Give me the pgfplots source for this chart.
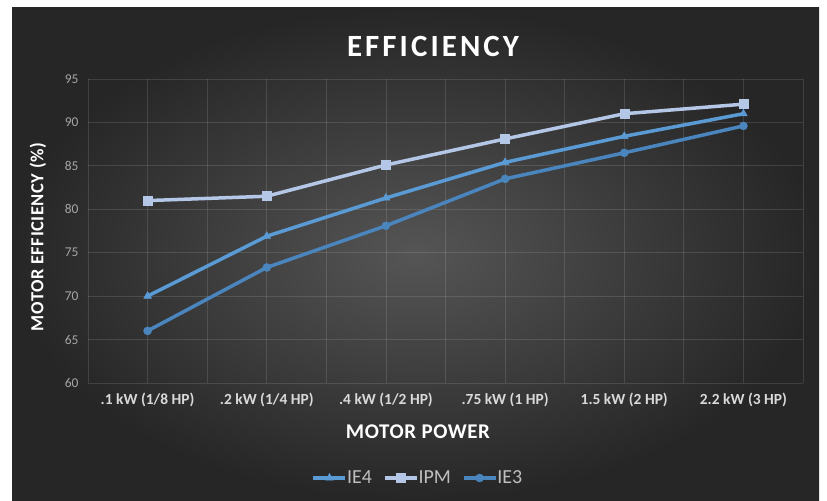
\documentclass[border=0pt]{standalone}
\usepackage{fontspec}
\setmainfont{Carlito}
\newfontfamily\titlefont[LetterSpace=10]{Carlito}
\newfontfamily\labfont[LetterSpace=3]{Carlito}
\usepackage{pgfplots}
\pgfplotsset{compat=1.18}
\definecolor{ipm}{HTML}{B4C7E7}
\definecolor{ie4}{HTML}{5B9BD5}
\definecolor{ie3}{HTML}{4A85BE}
\definecolor{bgin}{HTML}{555555}
\definecolor{bgout}{HTML}{262626}
\definecolor{ticky}{HTML}{A6A6A6}
\definecolor{tickx}{HTML}{D9D9D9}
\definecolor{legtxt}{HTML}{BFBFBF}
\begin{document}
\begin{tikzpicture}[x=1bp,y=1bp]
\fill[white] (0,0) rectangle (827,501);
\shade[inner color=bgin, outer color=bgout] (12,0) rectangle (819,493);
\begin{axis}[at={(88bp,118bp)}, anchor=south west, scale only axis,
  width=715bp, height=304bp,
  xmin=-0.5, xmax=5.5, ymin=60, ymax=95,
  xtick={0,...,5}, minor xtick={-0.5,0.5,...,5.5}, ytick={60,65,...,95},
  xticklabels={.1 kW (1/8 HP), .2 kW (1/4 HP), .4 kW (1/2 HP), .75 kW (1 HP), 1.5 kW (2 HP), 2.2 kW (3 HP)},
  grid=both,
  grid style={white, opacity=0.12, line width=0.8bp},
  minor grid style={white, opacity=0.12, line width=0.8bp},
  axis line style={draw=none},
  major tick style={draw=none}, minor tick style={draw=none},
  /pgf/number format/assume math mode=true,
  xticklabel style={font=\bfseries\fontsize{15.5}{17}\selectfont, text=tickx, yshift=-7bp},
  yticklabel style={font=\fontsize{13.5}{15}\selectfont, text=ticky, xshift=-6bp},
  legend style={at={(0.4615,-0.3125)}, anchor=center, draw=none, fill=none,
    text=legtxt, font=\fontsize{20}{22}\selectfont, legend columns=3,
    /tikz/every odd column/.append style={column sep=-2bp},
    /tikz/every even column/.append style={column sep=9bp}},
  legend cell align=left,
  legend image code/.code={\draw[mark repeat=2,mark phase=2,#1] plot coordinates {(0bp,0bp) (16bp,0bp) (32bp,0bp)};},
  every axis plot/.append style={line width=3.5bp},
]
\addplot[color=ie4, mark=triangle*, mark size=4.5bp, mark options={line width=0.5bp}] coordinates {(0,70) (1,76.9) (2,81.3) (3,85.4) (4,88.4) (5,91.0)};
\addlegendentry{IE4}
\addplot[color=ipm, mark=square*, mark size=4.5bp, mark options={line width=0.5bp}] coordinates {(0,81.0) (1,81.5) (2,85.1) (3,88.1) (4,91.0) (5,92.1)};
\addlegendentry{IPM}
\addplot[color=ie3, mark=*, mark size=4bp, mark options={line width=0.5bp}] coordinates {(0,66.0) (1,73.3) (2,78.1) (3,83.5) (4,86.5) (5,89.6)};
\addlegendentry{IE3}
\end{axis}
\node[text=white, font=\titlefont\bfseries\fontsize{31}{34}\selectfont] at (433,455) {EFFICIENCY};
\node[text=white, rotate=90, font=\labfont\bfseries\fontsize{18.5}{20}\selectfont] at (38,264) {MOTOR EFFICIENCY (\%)};
\node[text=white, font=\labfont\bfseries\fontsize{21}{24}\selectfont] at (418,69) {MOTOR POWER};
\end{tikzpicture}
\end{document}
